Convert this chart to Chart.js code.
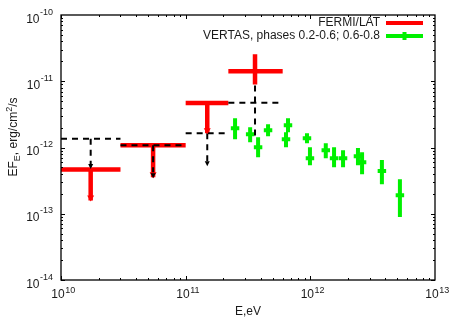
<!DOCTYPE html>
<html><head><meta charset="utf-8">
<script src="https://cdn.jsdelivr.net/npm/chart.js@4/dist/chart.umd.min.js"></script>
<style>html,body{margin:0;padding:0;background:#fff}</style>
</head><body>
<canvas id="c" width="457" height="320"></canvas>
<script>
// ---- data ----
const xTickExps = [10, 11, 12, 13];
const yTickExps = [-10, -11, -12, -13, -14];

// FERMI/LAT bins
const fermiE   = [1.73e10, 5.48e10, 1.49e11, 3.6e11];
const fermiElo = [1e10, 3e10, 1e11, 2.2e11];
const fermiEhi = [3e10, 1e11, 2.2e11, 6e11];
const fermiF   = [4.64e-13, 1.08e-12, 4.68e-12, 1.42e-11];
const fermiFlo = [1.59e-13, 3.57e-13, 1.64e-12, 8.9e-12];
const fermiFhi = [null, null, null, 2.55e-11];
const fermiArrow = [true, true, true, false];

// dashed black limits
const limE   = [1.73e10, 5.48e10, 1.49e11, 3.6e11];
const limElo = [1e10, 3e10, 1e11, 2.2e11];
const limEhi = [3e10, 1e11, 2.2e11, 6e11];
const limF   = [1.35e-12, 1.08e-12, 1.64e-12, 4.75e-12];
const limFlo = [4.9e-13, 3.57e-13, 5.4e-13, 1.43e-12];
const limFhi = [null, null, null, 8.6e-12];
const limArrow = [true, true, true, false];

// VERITAS points
const verE   = [2.49e11, 3.29e11, 3.81e11, 4.58e11, 6.62e11, 6.38e11, 9.4e11, 9.93e11, 1.33e12, 1.55e12, 1.83e12, 2.41e12, 2.6e12, 3.75e12, 5.23e12];
const verF   = [1.95e-12, 1.59e-12, 1.01e-12, 1.82e-12, 2.17e-12, 1.33e-12, 1.38e-12, 6.9e-13, 9.1e-13, 6.9e-13, 6.9e-13, 7.4e-13, 6.0e-13, 4.4e-13, 1.91e-13];
const verFlo = [1.33e-12, 1.2e-12, 7.1e-13, 1.48e-12, 1.7e-12, 1.01e-12, 1.16e-12, 5.4e-13, 6.9e-13, 5.05e-13, 5.05e-13, 5.4e-13, 3.95e-13, 2.8e-13, 8.9e-14];
const verFhi = [2.77e-12, 2.02e-12, 1.43e-12, 2.25e-12, 2.77e-12, 1.7e-12, 1.64e-12, 1.01e-12, 1.16e-12, 1.01e-12, 9.1e-13, 9.8e-13, 8.5e-13, 6.45e-13, 3.33e-13];

const legendLabels = ['FERMI/LAT', 'VERTAS, phases 0.2-0.6; 0.6-0.8'];
const xTitle = 'E,eV';

// ---- styling ----
const RED = '#ff0000', GREEN = '#00f000', BLACK = '#000000';
const FONT = '"Liberation Sans", Arial, Helvetica, sans-serif';
const verXHalfDex = 0.034;

function segs(list){
  const d=[];
  list.forEach(([x1,y1,x2,y2])=>{d.push({x:x1,y:y1},{x:x2,y:y2},{x:x2,y:null});});
  return d;
}
const fermiH = segs(fermiE.map((e,i)=>[fermiElo[i],fermiF[i],fermiEhi[i],fermiF[i]]));
const fermiV = segs(fermiE.map((e,i)=>[e,fermiFhi[i]===null?fermiF[i]:fermiFhi[i],e,fermiFlo[i]]));
const limH = segs(limE.map((e,i)=>[limElo[i],limF[i],limEhi[i],limF[i]]));
const limV = segs(limE.map((e,i)=>[e,limFhi[i]===null?limF[i]:limFhi[i],e,limFlo[i]]));
const f = Math.pow(10, verXHalfDex);
const verH = segs(verE.map((e,i)=>[e/f,verF[i],e*f,verF[i]]));
const verV = segs(verE.map((e,i)=>[e,verFhi[i],e,verFlo[i]]));

function lineDs(data,color,width,dash){
  return {type:'scatter',data,showLine:true,borderColor:color,backgroundColor:color,borderWidth:width,
    borderDash:dash||[],pointRadius:0,pointHoverRadius:0,spanGaps:false,borderCapStyle:'butt',tension:0};
}

function arrowHead(ctx,x,y,w,h,color){
  ctx.fillStyle=color;
  ctx.beginPath();ctx.moveTo(x-w/2,y-h);ctx.lineTo(x+w/2,y-h);ctx.lineTo(x,y);ctx.closePath();ctx.fill();
}

const decor = {
  id:'decor',
  afterDatasetsDraw(chart){
    const {ctx, scales:{x,y}} = chart;
    ctx.save();
    fermiE.forEach((e,i)=>{ if(fermiArrow[i]) arrowHead(ctx,x.getPixelForValue(e),y.getPixelForValue(fermiFlo[i])+1,7,6,RED); });
    limE.forEach((e,i)=>{ if(limArrow[i]) arrowHead(ctx,x.getPixelForValue(e),y.getPixelForValue(limFlo[i])+1,5,5,BLACK); });
    ctx.restore();
  },
  afterDraw(chart){
    const {ctx, chartArea:a, scales:{x,y}} = chart;
    ctx.save();
    // frame
    ctx.strokeStyle=BLACK; ctx.lineWidth=1.3;
    ctx.strokeRect(a.left,a.top,a.right-a.left,a.bottom-a.top);
    // ticks (inward, all sides)
    ctx.lineWidth=1;
    ctx.beginPath();
    for(let e=10;e<13;e++){for(let m=1;m<10;m++){
      const px=Math.round(x.getPixelForValue(m*Math.pow(10,e)))+0.5; const L=m===1?4:2;
      ctx.moveTo(px,a.bottom);ctx.lineTo(px,a.bottom-L);ctx.moveTo(px,a.top);ctx.lineTo(px,a.top+L);
    }}
    for(let e=-14;e<-10;e++){for(let m=1;m<10;m++){
      const py=Math.round(y.getPixelForValue(m*Math.pow(10,e)))+0.5; const L=m===1?4:2;
      ctx.moveTo(a.left,py);ctx.lineTo(a.left+L,py);ctx.moveTo(a.right,py);ctx.lineTo(a.right-L,py);
    }}
    ctx.stroke();
    // tick labels
    ctx.fillStyle='#1a1a1a';
    const base='12px '+FONT, sup='9px '+FONT;
    yTickExps.forEach(e=>{
      const py=y.getPixelForValue(Math.pow(10,e));
      ctx.font=sup; ctx.textAlign='right'; ctx.textBaseline='alphabetic';
      const s=String(e); const sw=ctx.measureText(s).width;
      ctx.fillText(s,53,py-0.5);
      ctx.font=base; ctx.fillText('10',53-sw-0.5,py+7.5);
    });
    xTickExps.forEach(e=>{
      const px=x.getPixelForValue(Math.pow(10,e));
      ctx.font=base; const bw=ctx.measureText('10').width;
      ctx.font=sup; const sw=ctx.measureText(String(e)).width;
      const start=px-(bw+sw)/2+2;
      ctx.textAlign='left'; ctx.textBaseline='alphabetic';
      ctx.font=base; ctx.fillText('10',start,298);
      ctx.font=sup; ctx.fillText(String(e),start+bw+0.5,292.5);
    });
    // x title
    ctx.font=base; ctx.textAlign='center'; ctx.fillText(xTitle,(a.left+a.right)/2,315);
    // y title rotated
    ctx.save();
    ctx.translate(17,137); ctx.rotate(-Math.PI/2);
    const parts=[['EF',base,0],['E',sup,3],[', erg/cm',base,0],['2',sup,-5],['/s',base,0]];
    let tw=0; parts.forEach(p=>{ctx.font=p[1];tw+=ctx.measureText(p[0]).width;});
    let cx=-tw/2; ctx.textAlign='left';
    parts.forEach(p=>{ctx.font=p[1];ctx.fillText(p[0],cx,p[2]);cx+=ctx.measureText(p[0]).width;});
    ctx.restore();
    // legend
    ctx.font=base; ctx.textAlign='right'; ctx.textBaseline='middle';
    ctx.fillText(legendLabels[0],380,23);
    ctx.fillText(legendLabels[1],380,36);
    ctx.strokeStyle=RED; ctx.lineWidth=4; ctx.beginPath(); ctx.moveTo(386,23); ctx.lineTo(423,23); ctx.stroke();
    ctx.strokeStyle=GREEN; ctx.lineWidth=4; ctx.beginPath(); ctx.moveTo(386,36); ctx.lineTo(423,36);
    ctx.moveTo(404.5,32); ctx.lineTo(404.5,40); ctx.stroke();
    ctx.restore();
  }
};

new Chart(document.getElementById('c'),{
  type:'scatter',
  data:{datasets:[
    lineDs(limH,BLACK,2,[6,5]),
    lineDs(limV,BLACK,2,[6,5]),
    lineDs(fermiH,RED,4.5),
    lineDs(fermiV,RED,4.5),
    lineDs(verH,GREEN,4),
    lineDs(verV,GREEN,4)
  ]},
  options:{
    responsive:false, animation:false, devicePixelRatio:1,
    layout:{padding:{left:0,right:22,top:15,bottom:0}},
    plugins:{legend:{display:false},tooltip:{enabled:false}},
    scales:{
      x:{type:'logarithmic',min:1e10,max:1e13,grid:{display:false},border:{display:false},ticks:{display:false},
        afterFit:s=>{s.height=40;}},
      y:{type:'logarithmic',min:1e-14,max:1e-10,grid:{display:false},border:{display:false},ticks:{display:false},
        afterFit:s=>{s.width=61;}}
    }
  },
  plugins:[decor]
});
</script>
</body></html>
